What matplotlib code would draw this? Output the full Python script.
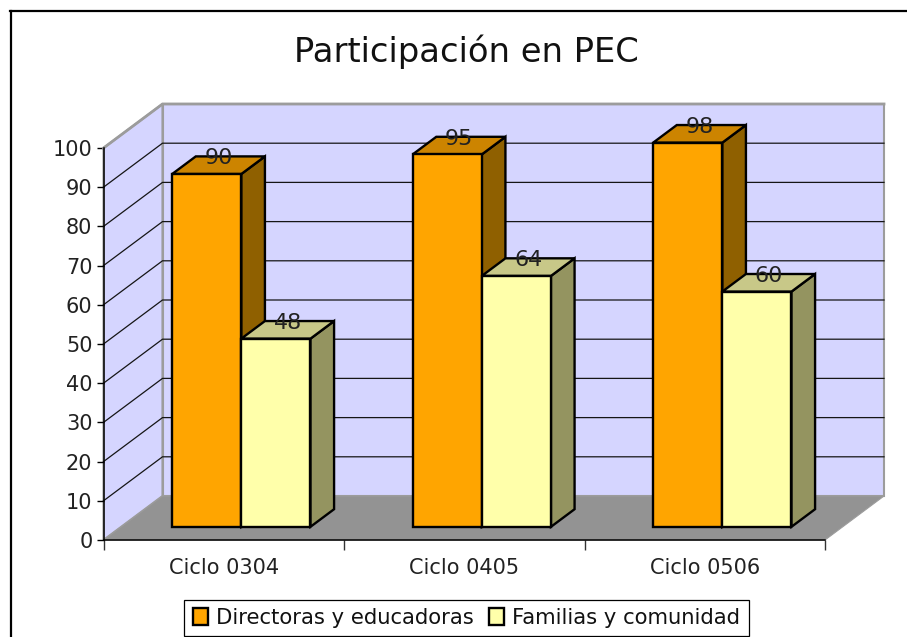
import matplotlib
matplotlib.use("Agg")
import matplotlib.pyplot as plt
from matplotlib.lines import Line2D
from matplotlib.patches import Patch, Polygon

title = "Participación en PEC"
categories = ["Ciclo 0304", "Ciclo 0405", "Ciclo 0506"]
directoras = [90, 95, 98]
familias = [48, 64, 60]
series_names = ["Directoras y educadoras", "Familias y comunidad"]
y_ticks = list(range(0, 101, 10))

W, H = 907, 637
X0, X1, Y0, Y1 = 103.5, 825.0, 540.0, 148.0      # front plane, pixels
DEPTH_PX_X, DEPTH_PX_Y = 59.0, 44.0              # full floor depth, pixels
BAR_W = 0.2875
GAP = 0.212
D0, D1 = 0.30, 0.70

ORANGE = ("#FFA500", "#CC8400", "#8F6000")
YELLOW = ("#FFFFAA", "#C8C888", "#949460")
WALL = "#D5D5FF"
FLOOR = "#939393"
EDGE = "#9C9C9C"

plt.rcParams["font.family"] = "DejaVu Sans"
fig = plt.figure(figsize=(W / 100, H / 100), dpi=100, facecolor="white")
ax = fig.add_axes([X0 / W, (H - Y0) / H, (X1 - X0) / W, (Y0 - Y1) / H])
ax.set_xlim(0, len(categories))
ax.set_ylim(0, 100)
ax.patch.set_visible(False)

# Depth expressed in data units of the front plane
dx = DEPTH_PX_X / ((X1 - X0) / len(categories))
dy = DEPTH_PX_Y / ((Y0 - Y1) / 100)


def P(x, y, d=0.0):
    return (x + d * dx, y + d * dy)


def poly(points, **kw):
    ax.add_patch(Polygon(points, closed=True, clip_on=False, joinstyle="miter", **kw))


n = len(categories)
# floor and walls
poly([P(0, 0), P(0, 0, 1), P(0, 100, 1), P(0, 100)], facecolor=WALL, edgecolor=EDGE, lw=1.5, zorder=1)
poly([P(0, 0, 1), P(n, 0, 1), P(n, 100, 1), P(0, 100, 1)], facecolor=WALL, edgecolor=EDGE, lw=1.5, zorder=1)
poly([P(0, 0), P(n, 0), P(n, 0, 1), P(0, 0, 1)], facecolor=FLOOR, edgecolor=EDGE, lw=0.8, zorder=1.5)

# gridlines
for v in y_ticks[1:-1]:
    a, b, c = P(0, v), P(0, v, 1), P(n, v, 1)
    ax.plot([a[0], b[0], c[0]], [a[1], b[1], c[1]], color="#151515", lw=0.9, clip_on=False, zorder=2,
            solid_joinstyle="miter")
a, b, c = P(0, 100), P(0, 100, 1), P(n, 100, 1)
ax.plot([a[0], b[0], c[0]], [a[1], b[1], c[1]], color=EDGE, lw=2.0, clip_on=False, zorder=2,
        solid_joinstyle="miter")


def bar(x, v, colors, z):
    xr = x + BAR_W
    kw = dict(edgecolor="black", lw=1.7, zorder=z)
    poly([P(xr, 0, D0), P(xr, 0, D1), P(xr, v, D1), P(xr, v, D0)], facecolor=colors[2], **kw)
    poly([P(x, v, D0), P(xr, v, D0), P(xr, v, D1), P(x, v, D1)], facecolor=colors[1], **kw)
    poly([P(x, 0, D0), P(xr, 0, D0), P(xr, v, D0), P(x, v, D0)], facecolor=colors[0], **kw)
    lx, ly = P(x + BAR_W / 2, v, (D0 + D1) / 2)
    ax.annotate(str(v), (lx, ly), xytext=(0, 5), textcoords="offset points", ha="center", va="center",
                fontsize=16, color="#222222", zorder=10, annotation_clip=False)


for i in range(n):
    bar(i + GAP, directoras[i], ORANGE, 4 + i)
    bar(i + GAP + BAR_W, familias[i], YELLOW, 4.5 + i)

# axes
for s in ("top", "right"):
    ax.spines[s].set_visible(False)
for s in ("left", "bottom"):
    ax.spines[s].set_linewidth(1.1)
    ax.spines[s].set_zorder(3)
ax.set_yticks(y_ticks)
ax.tick_params(axis="y", length=5, width=1.0, labelsize=15, pad=3, labelcolor="#222222")
ax.set_xticks(range(n + 1))
ax.set_xticklabels([])
ax.tick_params(axis="x", which="major", length=7, width=1.0, color="#333333")
ax.set_xticks([i + 0.5 for i in range(n)], minor=True)
ax.set_xticklabels(categories, minor=True)
ax.tick_params(axis="x", which="minor", length=0, labelsize=15, pad=13, labelcolor="#222222")

# title
fig.text(466 / W, 1 - 52 / H, title, fontsize=24.3, ha="center", va="center", color="#111111")

# chart border (left and top edges)
fig.add_artist(Line2D([11 / W, 11 / W], [0, 1 - 11 / H], color="black", lw=1.6, transform=fig.transFigure))
fig.add_artist(Line2D([10 / W, 1], [1 - 11 / H, 1 - 11 / H], color="black", lw=1.6, transform=fig.transFigure))

# legend
handles = [Patch(facecolor=ORANGE[0], edgecolor="black", lw=1.7),
           Patch(facecolor=YELLOW[0], edgecolor="black", lw=1.7)]
fig.legend(handles, series_names, loc="center", bbox_to_anchor=(466.5 / W, 1 - 618 / H), ncol=2,
           fontsize=15.2, frameon=True, fancybox=False, framealpha=1, edgecolor="black",
           handlelength=0.72, handleheight=0.85, handletextpad=0.4, columnspacing=0.7,
           borderpad=0.4, labelcolor="#111111").get_frame().set_linewidth(0.9)

fig.savefig("out.png", dpi=100, facecolor="white")
